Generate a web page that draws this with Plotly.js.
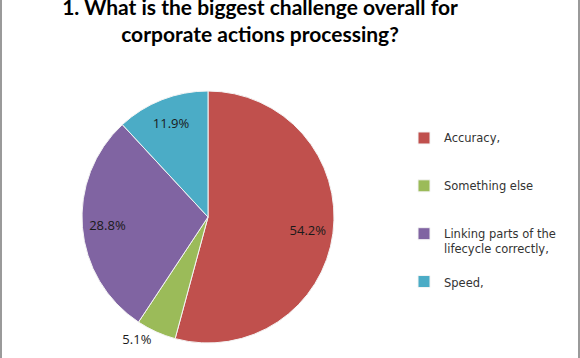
<!DOCTYPE html>
<html>
<head>
<meta charset="utf-8">
<script src="https://cdn.plot.ly/plotly-3.0.1.min.js"></script>
<style>
  html, body { margin: 0; padding: 0; background: #ffffff; }
  #wrap { width: 580px; height: 358px; position: relative; overflow: hidden; }
  #chart { width: 580px; height: 358px; }
  #wrap:before, #wrap:after { content: ""; position: absolute; top: 0; bottom: 0; width: 2px; background: #9a9a9a; z-index: 5; }
  #wrap:before { left: 0; }
  #wrap:after { left: 578px; }
</style>
</head>
<body>
<div id="wrap"><div id="chart"></div></div>
<script>
const titleText = "1. What is the biggest challenge overall for<br>corporate actions processing?";
const categories = ["Accuracy,", "Something else", "Linking parts of the<br>lifecycle correctly,", "Speed,"];
const legendPadding = ["<br> <br> ", "<br> <br> ", "<br> ", ""];
const percentages = [54.2, 5.1, 28.8, 11.9];
const colors = ["#C0504D", "#9BBB59", "#8064A2", "#4BACC6"];
const textPositions = ["inside", "outside", "inside", "inside"];

const W = 580, H = 358;
const cx = 208, cy = 217, r = 126;
const domain = { x: [(cx - r) / W, (cx + r) / W], y: [(H - cy - r) / H, (H - cy + r) / H] };
const labelFont = { family: "'Open Sans', Lato, sans-serif", size: 13, color: "#1a1a1a" };
const legendLabels = categories.map((c, i) => c + legendPadding[i]);

// Visible slices (no text)
const slices = {
  type: "pie",
  labels: legendLabels,
  values: percentages,
  sort: false,
  direction: "clockwise",
  rotation: 0,
  marker: { colors: colors, line: { color: "#f4f4f4", width: 1 } },
  textinfo: "none",
  hoverinfo: "label+percent",
  domain: domain
};

// Transparent ring carrying the data labels, so they sit out near the rim
const labelsRing = {
  type: "pie",
  labels: legendLabels,
  values: percentages,
  sort: false,
  direction: "clockwise",
  rotation: 0,
  hole: 0.6,
  showlegend: false,
  marker: { colors: ["rgba(0,0,0,0)", "rgba(0,0,0,0)", "rgba(0,0,0,0)", "rgba(0,0,0,0)"], line: { width: 0 } },
  texttemplate: "%{value:.1f}%",
  textposition: textPositions,
  insidetextorientation: "horizontal",
  textfont: labelFont,
  insidetextfont: labelFont,
  outsidetextfont: labelFont,
  hoverinfo: "skip",
  domain: domain
};

const layout = {
  width: W, height: H,
  margin: { l: 0, r: 0, t: 0, b: 0 },
  paper_bgcolor: "#ffffff",
  plot_bgcolor: "#ffffff",
  title: {
    text: titleText,
    font: { family: "Lato, 'Open Sans', sans-serif", size: 21, color: "#000000", weight: "bold" },
    x: 260 / W, xanchor: "center",
    yref: "container", y: 1 - 15 / H, yanchor: "middle"
  },
  showlegend: true,
  legend: {
    x: 404 / W, xanchor: "left",
    y: 1 - 124 / H, yanchor: "top",
    valign: "top",
    font: { family: "'DejaVu Sans', 'Open Sans', sans-serif", size: 11.5, color: "#333333" },
    itemwidth: 30,
    bgcolor: "rgba(0,0,0,0)"
  }
};

Plotly.newPlot("chart", [slices, labelsRing], layout, { displayModeBar: false, staticPlot: true });
</script>
</body>
</html>
